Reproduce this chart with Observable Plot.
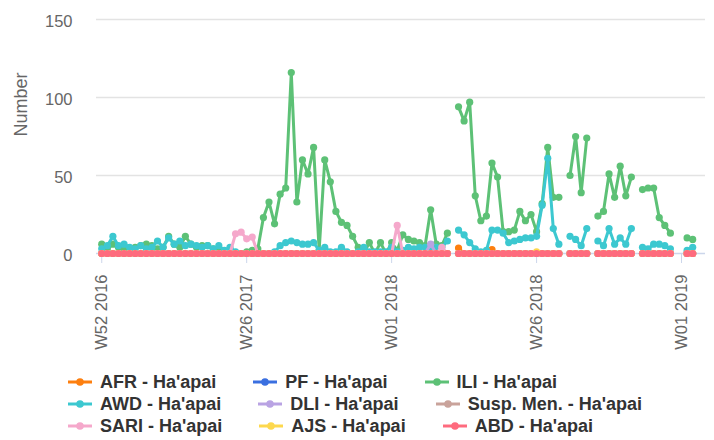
<!DOCTYPE html>
<html>
<head>
<meta charset="utf-8">
<script src="https://cdn.jsdelivr.net/npm/d3@7"></script>
<script src="https://cdn.jsdelivr.net/npm/@observablehq/plot@0.6"></script>
<style>
  body { margin: 0; background: #fff; font-family: "Liberation Sans", Arial, sans-serif; }
  #chart { position: relative; width: 714px; height: 440px; overflow: hidden; }
  .legend { position: relative; width: 714px; height: 80px; }
  .row { position: absolute; left: 68px; display: flex; align-items: center; height: 22px; }
  .item { display: flex; align-items: center; font-weight: bold; font-size: 18px; color: #333; white-space: nowrap; margin-right: 37px; }
  .item svg { display: block; margin-right: 8px; }
</style>
</head>
<body>
<div id="chart"></div>
<script>
// ---- data ----
const weekTicks = [0, 26, 52, 78, 104];
const weekTickLabels = ["W52 2016", "W26 2017", "W01 2018", "W26 2018", "W01 2019"];
const nWeeks = 107;
const missingWeeks = [63, 83, 88, 96, 103, 104];

const ILI = [
  6, 3, 6, 4, 3, 2, 4, 5, 6, 5,
  3, 4, 11, 6, 4, 11, 6, 4, 5, 5,
  3, 2, 1, 2, 0, 0, 1, 2, 3, 23,
  33, 19, 38, 42, 116, 33, 60, 51, 68, 2,
  60, 46, 27, 20, 18, 11, 4, 0, 7, 0,
  7, 0, 7, 2, 12, 9, 8, 7, 5, 28,
  6, 5, 13, null, 94, 85, 97, 37, 21, 24,
  58, 49, 14, 14, 15, 27, 21, 25, 14, 32,
  68, 36, 36, null, 50, 75, 39, 74, null, 24,
  27, 51, 36, 56, 37, 49, null, 41, 42, 42,
  23, 18, 13, null, null, 10, 9
];
const AWD = [
  3, 5, 11, 5, 6, 4, 3, 5, 3, 4,
  8, 4, 10, 6, 8, 5, 6, 5, 4, 5,
  3, 5, 2, 4, 1, 0, 0, 0, 0, 0,
  0, 1, 5, 7, 8, 7, 6, 6, 7, 2,
  4, 1, 1, 4, 1, 0, 1, 4, 1, 1,
  1, 1, 4, 1, 2, 4, 3, 4, 4, 2,
  4, 4, 8, null, 15, 12, 7, 3, 1, 2,
  15, 15, 13, 7, 8, 9, 10, 10, 11, 31,
  61, 16, 6, null, 11, 9, 5, 16, null, 8,
  5, 16, 6, 10, 6, 16, null, 4, 3, 6,
  6, 5, 3, null, null, 2, 4
];
// sparse series: [week index, value]; every other reported week is 0
const AFR_points = [[64, 3.5], [70, 2.5]];
const PF_points = [[60, 4]];
const DLI_points = [[59, 6]];
const SUSP_points = [];
const SARI_points = [[24, 12.6], [25, 13.7], [26, 9.4], [27, 10.5], [53, 18], [61, 4]];
const AJS_points = [[78, 1]];
const ABD_points = [];

const seriesNames = ["AFR - Ha'apai", "PF - Ha'apai", "ILI - Ha'apai", "AWD - Ha'apai", "DLI - Ha'apai",
  "Susp. Men. - Ha'apai", "SARI - Ha'apai", "AJS - Ha'apai", "ABD - Ha'apai"];
const seriesColors = ["#fd7f0f", "#3a6fe0", "#5dc176", "#3cc8d0", "#b9a3e3", "#c9a39b", "#f5a8cb", "#fdd84e", "#fe6b7e"];

// ---- build ----
function fromSparse(points) {
  const m = new Map(points);
  return d3.range(nWeeks).map(i => missingWeeks.includes(i) ? null : (m.get(i) ?? 0));
}
const seriesValues = [
  fromSparse(AFR_points), fromSparse(PF_points), ILI, AWD, fromSparse(DLI_points),
  fromSparse(SUSP_points), fromSparse(SARI_points), fromSparse(AJS_points), fromSparse(ABD_points)
];

const seriesMarks = [];
seriesValues.forEach((vals, k) => {
  const rows = vals.map((v, i) => ({i, v}));
  seriesMarks.push(Plot.line(rows, {x: "i", y: "v", stroke: seriesColors[k], strokeWidth: 3, strokeLinejoin: "round", strokeLinecap: "round"}));
  seriesMarks.push(Plot.dot(rows.filter(d => d.v != null), {x: "i", y: "v", r: 3.6, fill: seriesColors[k], stroke: "none"}));
});

const chart = Plot.plot({
  width: 714,
  height: 360,
  marginLeft: 96,
  marginRight: 9,
  marginTop: 19,
  marginBottom: 107,
  style: {fontFamily: "'Liberation Sans', Arial, sans-serif", background: "#fff"},
  x: {domain: [-0.94, 108.3], axis: null},
  y: {domain: [0, 150], axis: null},
  marks: [
    Plot.gridY([50, 100, 150], {stroke: "#e3e3e3", strokeOpacity: 1, strokeWidth: 1.5}),
    Plot.ruleY([0], {stroke: "#ccd6eb", strokeWidth: 1.5}),
    Plot.axisX(weekTicks, {
      tickFormat: d => weekTickLabels[weekTicks.indexOf(d)],
      tickRotate: -90, tickSize: 10, tickPadding: 11, fontSize: 16.5,
      stroke: "#ccd6eb", fill: "#666", label: null
    }),
    Plot.axisY([0, 50, 100, 150], {tickSize: 0, tickPadding: 24, fontSize: 16.5, fill: "#666", label: null, dy: 2}),
    Plot.text(["Number"], {frameAnchor: "left", dx: -75, rotate: -90, fontSize: 18, fill: "#666"}),
    ...seriesMarks
  ]
});
document.getElementById("chart").appendChild(chart);

// ---- legend (three rows of three, as in the reference) ----
const legendRowTop = [11, 33, 55];
const legend = d3.select("#chart").append("div").attr("class", "legend");
[0, 1, 2].forEach(row => {
  const r = legend.append("div").attr("class", "row").style("top", legendRowTop[row] + "px");
  [0, 1, 2].forEach(col => {
    const k = row * 3 + col;
    const item = r.append("div").attr("class", "item");
    const s = item.append("svg").attr("width", 24).attr("height", 20);
    s.append("line").attr("x1", 0).attr("x2", 24).attr("y1", 10).attr("y2", 10)
      .attr("stroke", seriesColors[k]).attr("stroke-width", 3);
    s.append("circle").attr("cx", 12).attr("cy", 10).attr("r", 3.8).attr("fill", seriesColors[k]);
    item.append("span").text(seriesNames[k]);
  });
});
</script>
</body>
</html>
